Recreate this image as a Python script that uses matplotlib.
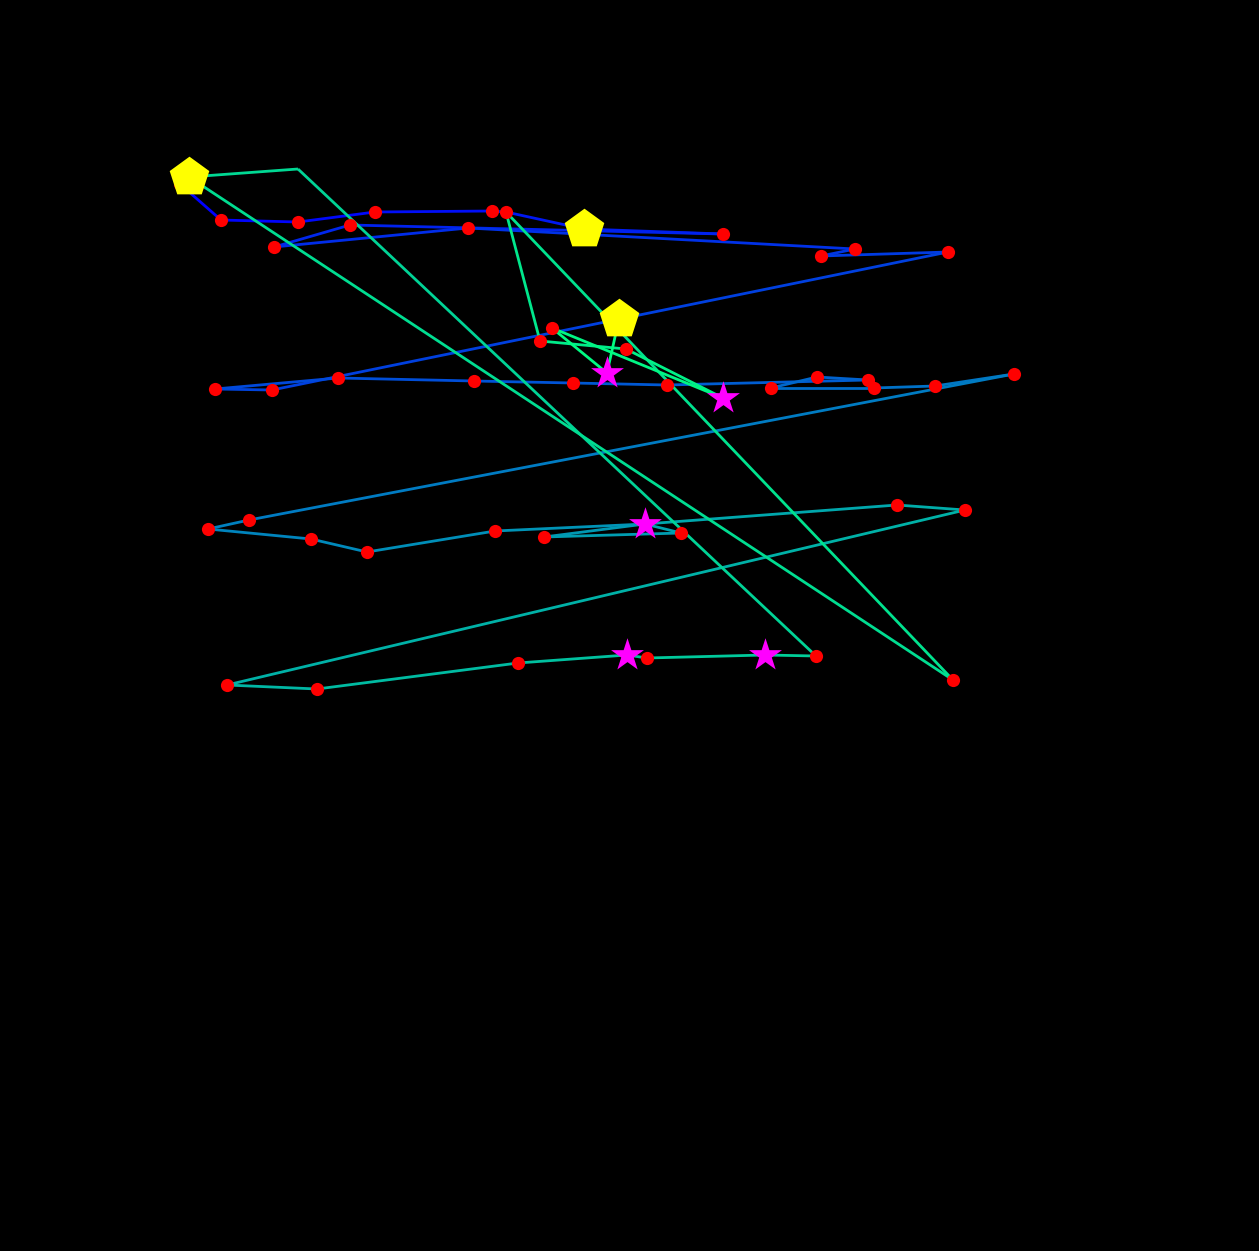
import matplotlib
matplotlib.use("Agg")
import matplotlib.pyplot as plt
import numpy as np
from matplotlib.collections import LineCollection

# route through the points, in drawing order (pixel-like coords, y down)
route_x = [180, 221, 298, 375, 492, 506, 584, 723, 350, 274, 468, 855, 821, 948,
           272, 215, 338, 474, 573, 667, 868, 817, 771, 874, 935, 1014,
           249, 208, 311, 367, 495, 645, 544, 681, 645, 897, 965,
           227, 317, 518, 627, 647, 765, 816,
           298, 189, 953, 506, 540, 626, 723, 552, 607, 619]
route_y = [184, 220, 222, 212, 211, 212, 229, 234, 225, 247, 228, 249, 256, 252,
           390, 389, 378, 381, 383, 385, 380, 377, 388, 388, 386, 374,
           520, 529, 539, 552, 531, 524, 537, 533, 524, 505, 510,
           685, 689, 663, 655, 658, 655, 656,
           169, 177, 680, 212, 341, 349, 398, 328, 373, 319]

# red points
dot_x = [180, 221, 298, 375, 492, 506, 350, 468, 274, 723, 855, 821, 948,
         552, 540, 626,
         215, 272, 338, 474, 573, 667, 771, 817, 868, 874, 935, 1014,
         249, 208, 311, 367, 495, 544, 681, 897, 965,
         227, 317, 518, 647, 816, 953]
dot_y = [184, 220, 222, 212, 211, 212, 225, 228, 247, 234, 249, 256, 252,
         328, 341, 349,
         389, 390, 378, 381, 383, 385, 388, 377, 380, 388, 386, 374,
         520, 529, 539, 552, 531, 537, 533, 505, 510,
         685, 689, 663, 658, 656, 680]

# magenta stars
star_x = [607, 723, 645, 627, 765]
star_y = [373, 398, 524, 655, 655]

# yellow pentagons
pent_x = [189, 584, 619]
pent_y = [177, 229, 319]


def main():
    fig = plt.figure(figsize=(12.59, 12.51), dpi=100, facecolor="black")
    ax = fig.add_axes([0, 0, 1, 1])
    ax.set_facecolor("black")
    ax.set_xlim(0, 1259)
    ax.set_ylim(1251, 0)
    ax.axis("off")

    pts = np.column_stack([route_x, route_y])
    segs = np.stack([pts[:-1], pts[1:]], axis=1)
    lc = LineCollection(segs, cmap="winter", linewidths=2.0, zorder=1)
    lc.set_array(np.arange(len(segs)))
    ax.add_collection(lc)

    ax.scatter(star_x, star_y, s=620, marker="*", color="magenta",
               linewidths=0, zorder=2)
    ax.scatter(dot_x, dot_y, s=90, marker="o", color="red",
               linewidths=0, zorder=3)
    ax.scatter(pent_x, pent_y, s=900, marker="p", color="yellow",
               linewidths=0, zorder=4)

    fig.savefig("out.png", dpi=100, facecolor="black")


if __name__ == "__main__":
    main()
